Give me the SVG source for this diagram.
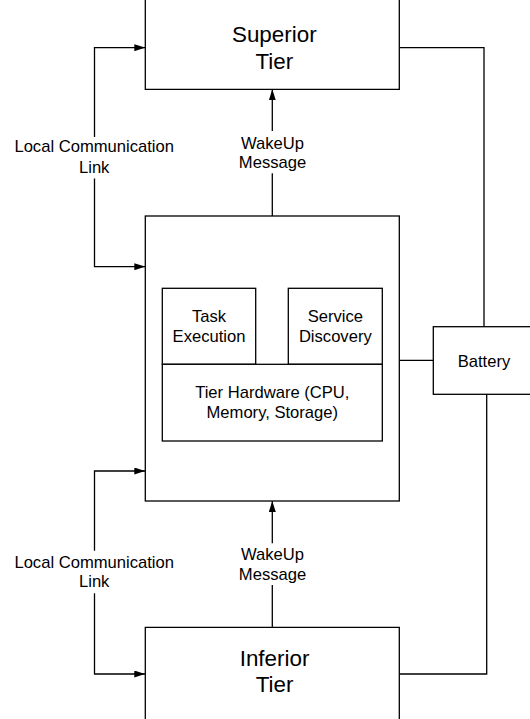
<svg xmlns="http://www.w3.org/2000/svg" width="530" height="719" viewBox="0 0 530 719">
<style>
  .box { fill: #fff; stroke: #000; stroke-width: 1.3; }
  .edge { fill: none; stroke: #000; stroke-width: 1.3; }
  text { font-family: "Liberation Sans", Arial, sans-serif; fill: #000; text-anchor: middle; }
  .big { font-size: 22.4px; }
  .small { font-size: 16.6px; }
</style>
<defs>
  <marker id="arrow" markerUnits="userSpaceOnUse" markerWidth="11" markerHeight="7" refX="11" refY="3.5" orient="auto">
    <path d="M0,0 L11,3.5 L0,7 z" fill="#000"/>
  </marker>
</defs>
<rect width="530" height="719" fill="#fff"/>

<g id="connectors">
  <!-- superior to battery -->
  <polyline class="edge" points="399.3,47.7 484,47.7 484,326.7"/>
  <!-- battery to inferior -->
  <polyline class="edge" points="486.7,394.3 486.7,674 399.3,674"/>
  <!-- middle to battery -->
  <line class="edge" x1="399.3" y1="360.3" x2="433.3" y2="360.3"/>
  <!-- upper local communication link -->
  <polyline class="edge" points="94.5,137 94.5,47.7 145.3,47.7" marker-end="url(#arrow)"/>
  <polyline class="edge" points="94.5,178.5 94.5,266.7 145.3,266.7" marker-end="url(#arrow)"/>
  <text class="small" x="94.2" y="152.3">Local Communication</text>
  <text class="small" x="94.2" y="172.6">Link</text>
  <!-- upper wakeup -->
  <line class="edge" x1="272.3" y1="131" x2="272.3" y2="89.3" marker-end="url(#arrow)"/>
  <line class="edge" x1="272.3" y1="173.3" x2="272.3" y2="216"/>
  <text class="small" x="272.5" y="149.3">WakeUp</text>
  <text class="small" x="272.5" y="168">Message</text>
  <!-- lower local communication link -->
  <polyline class="edge" points="94.5,550.7 94.5,471 145.3,471" marker-end="url(#arrow)"/>
  <polyline class="edge" points="94.5,593.3 94.5,674 145.3,674" marker-end="url(#arrow)"/>
  <text class="small" x="94.2" y="568.3">Local Communication</text>
  <text class="small" x="94.2" y="587.3">Link</text>
  <!-- lower wakeup -->
  <line class="edge" x1="272.3" y1="543.3" x2="272.3" y2="501" marker-end="url(#arrow)"/>
  <line class="edge" x1="272.3" y1="585" x2="272.3" y2="627.3"/>
  <text class="small" x="272.5" y="560">WakeUp</text>
  <text class="small" x="272.5" y="580">Message</text>
</g>

<g id="superior-tier">
  <path class="box" d="M145.3,-2 L145.3,89.3 L399.3,89.3 L399.3,-2"/>
  <text class="big" x="274.3" y="42.3">Superior</text>
  <text class="big" x="274.3" y="69">Tier</text>
</g>

<g id="tier">
  <rect class="box" x="145.3" y="216" width="254" height="285"/>
</g>

<g id="task-execution">
  <rect class="box" x="162.3" y="288.3" width="93.4" height="76"/>
  <text class="small" x="209" y="322.3">Task</text>
  <text class="small" x="209" y="342">Execution</text>
</g>

<g id="service-discovery">
  <rect class="box" x="288.3" y="288.3" width="94" height="76"/>
  <text class="small" x="335.3" y="322.3">Service</text>
  <text class="small" x="335.3" y="342">Discovery</text>
</g>

<g id="tier-hardware">
  <rect class="box" x="162.3" y="364.3" width="220" height="76.7"/>
  <text class="small" x="272.3" y="398.3">Tier Hardware (CPU,</text>
  <text class="small" x="272.3" y="418.3">Memory, Storage)</text>
</g>

<g id="battery">
  <rect class="box" x="433.3" y="326.7" width="102" height="67.6"/>
  <text class="small" x="484" y="366.5">Battery</text>
</g>

<g id="inferior-tier">
  <path class="box" d="M145.3,721 L145.3,627.3 L399.3,627.3 L399.3,721"/>
  <text class="big" x="274.5" y="665.7">Inferior</text>
  <text class="big" x="274.5" y="691.7">Tier</text>
</g>
</svg>
